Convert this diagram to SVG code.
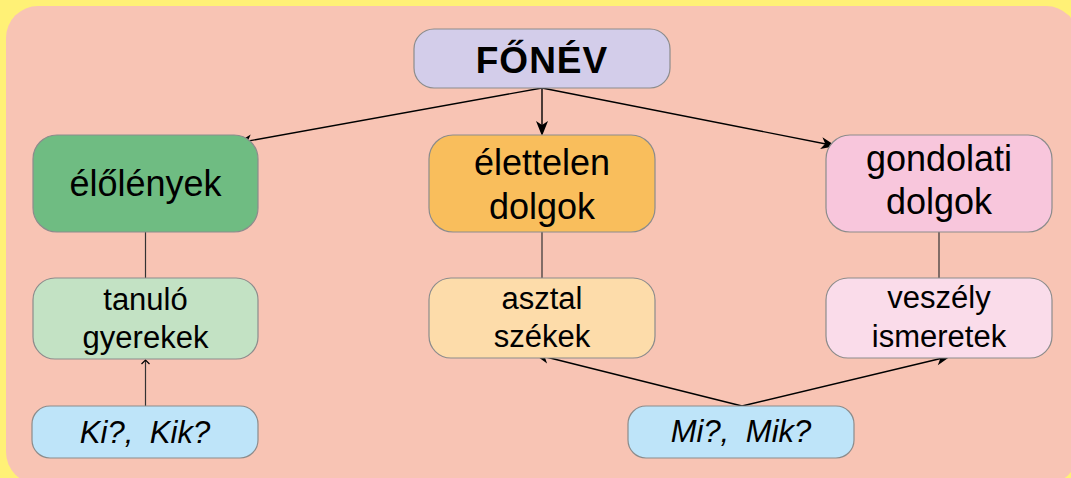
<svg xmlns="http://www.w3.org/2000/svg" xmlns:xlink="http://www.w3.org/1999/xlink" width="1071" height="478" viewBox="0 0 1071 478">
<defs>
<style>
.box{stroke:#8c8c8c;stroke-width:1.2}
.t{font-family:"Liberation Sans",Arial,sans-serif;fill:#000;text-anchor:middle}
.big{font-size:36px}
.mid{font-size:31px}
.q{font-size:31px;font-style:italic;word-spacing:8px}
.title{font-size:37px;font-weight:bold;letter-spacing:1px}
.ln{stroke:#000;stroke-width:1.4;fill:none}
.ln2{stroke:#333;stroke-width:1.2;fill:none}
</style>
<path id="ah" d="M0,0 L-15,-6 L-11,0 L-15,6 z" fill="#000"/>
<path id="ahs" d="M-4,-4 L0,0 L-4,4" fill="none" stroke="#000" stroke-width="1.2"/>
</defs>
<rect x="0" y="0" width="1071" height="478" fill="#FFF176"/>
<rect x="6" y="6" width="1072" height="478" rx="32" fill="#F8C4B4"/>
<g id="connectors">
<line class="ln" x1="542" y1="88" x2="241" y2="142.3"/>
<use xlink:href="#ah" href="#ah" transform="translate(237,143) rotate(169.78)"/>
<line class="ln" x1="542" y1="88" x2="542" y2="130"/>
<use xlink:href="#ah" href="#ah" transform="translate(542,136) rotate(90)"/>
<line class="ln" x1="542" y1="88" x2="831" y2="145"/>
<use xlink:href="#ah" href="#ah" transform="translate(836,146) rotate(11.16)"/>
<line class="ln2" x1="145.5" y1="232" x2="145.5" y2="278"/>
<line class="ln2" x1="542" y1="232" x2="542" y2="278"/>
<line class="ln2" x1="939" y1="232" x2="939" y2="278"/>
<line class="ln2" x1="145.5" y1="406" x2="145.5" y2="360"/>
<use xlink:href="#ahs" href="#ahs" transform="translate(145.5,360) rotate(-90)"/>
<line class="ln" x1="742" y1="406" x2="539" y2="355.2"/>
<use xlink:href="#ah" href="#ah" transform="translate(534,354) rotate(-165.96)"/>
<line class="ln" x1="742" y1="406" x2="946" y2="357.2"/>
<use xlink:href="#ah" href="#ah" transform="translate(951,356) rotate(-13.45)"/>
</g>
<g id="fonev">
<rect class="box" x="414" y="29" width="256" height="59" rx="20" fill="#D3CDEA"/>
<text class="t title" x="542" y="73">FŐNÉV</text>
</g>
<g id="elolenyek">
<rect class="box" x="33" y="135" width="225" height="97" rx="24" fill="#6FBC82"/>
<text class="t big" x="145.5" y="196">élőlények</text>
</g>
<g id="elettelen">
<rect class="box" x="429" y="135" width="226" height="97" rx="24" fill="#F9BE5C"/>
<text class="t big" x="542" y="175">élettelen</text>
<text class="t big" x="542" y="219">dolgok</text>
</g>
<g id="gondolati">
<rect class="box" x="826" y="135" width="226" height="97" rx="24" fill="#F8C6DC"/>
<text class="t big" x="939" y="171">gondolati</text>
<text class="t big" x="939" y="214">dolgok</text>
</g>
<g id="tanulo">
<rect class="box" x="33" y="278" width="225" height="81" rx="22" fill="#C3E2C4"/>
<text class="t mid" x="145.5" y="310">tanuló</text>
<text class="t mid" x="145.5" y="348">gyerekek</text>
</g>
<g id="asztal">
<rect class="box" x="429" y="278" width="226" height="80" rx="22" fill="#FDDCAA"/>
<text class="t mid" x="542" y="309">asztal</text>
<text class="t mid" x="542" y="347">székek</text>
</g>
<g id="veszely">
<rect class="box" x="826" y="278" width="226" height="80" rx="22" fill="#FADCEA"/>
<text class="t mid" x="939" y="308">veszély</text>
<text class="t mid" x="939" y="347">ismeretek</text>
</g>
<g id="ki">
<rect class="box" x="32" y="406" width="226" height="52" rx="18" fill="#BEE4F9"/>
<text class="t q" x="145" y="443">Ki?, Kik?</text>
</g>
<g id="mi">
<rect class="box" x="628" y="406" width="226" height="52" rx="18" fill="#BEE4F9"/>
<text class="t q" x="741" y="442">Mi?, Mik?</text>
</g>
</svg>
